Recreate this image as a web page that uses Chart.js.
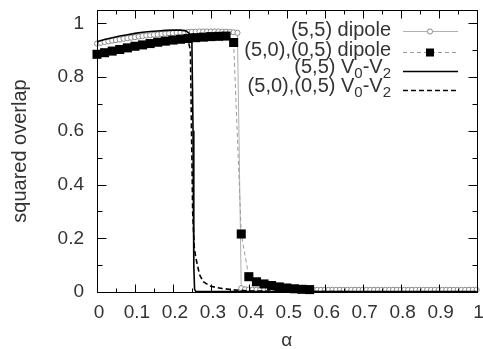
<!DOCTYPE html>
<html>
<head>
<meta charset="utf-8">
<script src="https://cdn.jsdelivr.net/npm/chart.js@4.4.1/dist/chart.umd.min.js"></script>
<style>
html,body{margin:0;padding:0;background:#fff;}
canvas{display:block;}
</style>
</head>
<body>
<canvas id="c" width="483" height="349"></canvas>
<script>
// ---- tick labels ----
const xTickValues = [0,0.1,0.2,0.3,0.4,0.5,0.6,0.7,0.8,0.9,1];
const xTickLabels = ['0','0.1','0.2','0.3','0.4','0.5','0.6','0.7','0.8','0.9','1'];
const xMinorTicks = [0.05,0.15,0.25,0.35,0.45,0.55,0.65,0.75,0.85,0.95];
const yTickValues = [0,0.2,0.4,0.6,0.8,1];
const yTickLabels = ['0','0.2','0.4','0.6','0.8','1'];
const yMinorTicks = [0.1,0.3,0.5,0.7,0.9];

const legendLabels = ['(5,5) dipole','(5,0),(0,5) dipole','(5,5) V_0-V_2','(5,0),(0,5) V_0-V_2'];

// ---- series: (5,5) dipole ----
const dip55X = [0,0.01,0.02,0.03,0.04,0.05,0.06,0.07,0.08,0.09,0.10,0.11,0.12,0.13,0.14,0.15,0.16,0.17,0.18,0.19,0.20,0.21,0.22,0.23,0.24,0.25,0.26,0.27,0.28,0.29,0.30,0.31,0.32,0.33,0.34,0.35,0.36,0.37,
  0.38,0.39,0.40,0.41,0.42,0.43,0.44,0.45,0.46,0.47,0.48,0.49,0.50,0.51,0.52,0.53,0.54,0.55,0.56,0.57,0.58,0.59,0.60,0.61,0.62,0.63,0.64,0.65,0.66,0.67,0.68,0.69,0.70,0.71,0.72,0.73,0.74,0.75,0.76,0.77,0.78,0.79,0.80,0.81,0.82,0.83,0.84,0.85,0.86,0.87,0.88,0.89,0.90,0.91,0.92,0.93,0.94,0.95,0.96,0.97,0.98,0.99,1.00];
const dip55Y = [0.925,0.928,0.931,0.933,0.936,0.938,0.940,0.943,0.945,0.947,0.949,0.951,0.953,0.955,0.956,0.958,0.959,0.961,0.962,0.963,0.964,0.965,0.966,0.967,0.968,0.969,0.969,0.970,0.970,0.970,0.970,0.970,0.970,0.969,0.969,0.968,0.967,0.965,
  0.014,0.010,0.009,0.008,0.008,0.008,0.008,0.008,0.008,0.008,0.008,0.008,0.008,0.008,0.008,0.008,0.008,0.008,0.008,0.008,0.008,0.008,0.008,0.008,0.008,0.008,0.008,0.008,0.008,0.008,0.008,0.008,0.008,0.008,0.008,0.008,0.008,0.008,0.008,0.008,0.008,0.008,0.008,0.008,0.008,0.008,0.008,0.008,0.008,0.008,0.008,0.008,0.008,0.008,0.008,0.008,0.008,0.008,0.008,0.008,0.008,0.008,0.008,0.008,0.008];

// ---- series: (5,0),(0,5) dipole ----
const dip50X = [0,0.02,0.04,0.06,0.08,0.10,0.12,0.14,0.16,0.18,0.20,0.22,0.24,0.26,0.28,0.30,0.32,0.34,0.36,0.38,0.40,0.42,0.44,0.46,0.48,0.50,0.52,0.54,0.56];
const dip50Y = [0.885,0.891,0.897,0.903,0.909,0.915,0.920,0.925,0.930,0.934,0.938,0.941,0.944,0.947,0.949,0.951,0.952,0.953,0.929,0.216,0.057,0.038,0.030,0.024,0.019,0.015,0.012,0.010,0.009];

// ---- series: (5,5) V0-V2 ----
const v55X = [0,0.02,0.04,0.06,0.08,0.10,0.12,0.14,0.16,0.18,0.20,0.22,0.235,0.245,0.250,0.253,0.255,0.257,0.26,0.30,0.40,0.60,0.80,1.00];
const v55Y = [0.932,0.940,0.947,0.953,0.958,0.963,0.967,0.970,0.972,0.974,0.975,0.975,0.972,0.960,0.930,0.600,0.100,0.010,0.003,0.002,0.002,0.002,0.002,0.002];

// ---- series: (5,0),(0,5) V0-V2 ----
const v50X = [0,0.04,0.08,0.12,0.16,0.20,0.23,0.240,0.246,0.249,0.252,0.256,0.26,0.27,0.28,0.30,0.33,0.36,0.40,0.50,0.70,1.00];
const v50Y = [0.885,0.897,0.909,0.920,0.930,0.938,0.942,0.938,0.900,0.600,0.300,0.170,0.130,0.065,0.038,0.021,0.013,0.008,0.004,0.002,0.001,0.001];

function pts(xs, ys){ return xs.map((x,i)=>({x:x, y:ys[i]})); }

const FONT = '"Liberation Sans", Arial, sans-serif';
const TXT = '#333';

const decor = {
  id: 'decor',
  afterDraw(chart){
    const ctx = chart.ctx, a = chart.chartArea;
    const xs = chart.scales.x, ys = chart.scales.y;
    ctx.save();
    ctx.strokeStyle = '#000';
    ctx.lineWidth = 1;
    ctx.strokeRect(Math.round(a.left)+0.5, Math.round(a.top)+0.5, Math.round(a.right-a.left), Math.round(a.bottom-a.top));
    const L = Math.round(a.left)+0.5, R = Math.round(a.right)+0.5, T = Math.round(a.top)+0.5, B = Math.round(a.bottom)+0.5;
    ctx.beginPath();
    function xt(v, len){
      const p = Math.round(xs.getPixelForValue(v))+0.5;
      ctx.moveTo(p, B); ctx.lineTo(p, B-len);
      ctx.moveTo(p, T); ctx.lineTo(p, T+len);
    }
    function yt(v, len){
      const p = Math.round(ys.getPixelForValue(v))+0.5;
      ctx.moveTo(L, p); ctx.lineTo(L+len, p);
      ctx.moveTo(R, p); ctx.lineTo(R-len, p);
    }
    xTickValues.forEach(v=>xt(v,8));
    xMinorTicks.forEach(v=>xt(v,4));
    yTickValues.forEach(v=>yt(v,9));
    yMinorTicks.forEach(v=>yt(v,5));
    ctx.stroke();

    // legend (gnuplot style key)
    const rows = [30, 50, 67, 86];
    const samp = [31, 52, 71, 90];
    const textRight = 391, s0 = 403, s1 = 458, sm = 430;
    const mainF = '20px ' + FONT, subF = '15px ' + FONT;
    ctx.textBaseline = 'middle';
    ctx.fillStyle = TXT;
    legendLabels.forEach((lab, i)=>{
      const parts = [];
      const re = /_(.)/g; let last = 0, m;
      while ((m = re.exec(lab)) !== null){
        if (m.index > last) parts.push({t: lab.slice(last, m.index), sub:false});
        parts.push({t: m[1], sub:true});
        last = m.index + m[0].length;
      }
      if (last < lab.length) parts.push({t: lab.slice(last), sub:false});
      let w = 0;
      parts.forEach(p=>{ ctx.font = p.sub ? subF : mainF; p.w = ctx.measureText(p.t).width; w += p.w; });
      let x = textRight - w;
      ctx.textAlign = 'left';
      parts.forEach(p=>{
        ctx.font = p.sub ? subF : mainF;
        ctx.fillText(p.t, x, rows[i] + (p.sub ? 7 : 0));
        x += p.w;
      });
      const ds = chart.data.datasets[i];
      ctx.save();
      ctx.strokeStyle = ds.borderColor;
      ctx.lineWidth = ds.borderWidth;
      ctx.setLineDash(ds.borderDash || []);
      ctx.beginPath();
      ctx.moveTo(s0, samp[i]+0.5); ctx.lineTo(s1, samp[i]+0.5);
      ctx.stroke();
      ctx.setLineDash([]);
      if (i === 0){
        ctx.fillStyle = '#fff'; ctx.strokeStyle = '#8a8a8a'; ctx.lineWidth = 1;
        ctx.beginPath(); ctx.arc(sm, samp[i]+0.5, 2.6, 0, Math.PI*2); ctx.fill(); ctx.stroke();
      } else if (i === 1){
        ctx.fillStyle = '#000';
        ctx.fillRect(sm-4, samp[i]+0.5-4, 8, 8);
      }
      ctx.restore();
    });
    ctx.restore();
  }
};

new Chart(document.getElementById('c'), {
  type: 'scatter',
  data: {
    datasets: [
      { label: legendLabels[0], data: pts(dip55X, dip55Y), showLine: true, borderColor: '#b0b0b0', borderWidth: 1,
        pointStyle: 'circle', pointRadius: 2.6, pointBorderColor: '#8a8a8a', pointBackgroundColor: '#fff', pointBorderWidth: 1, order: 4, clip: false },
      { label: legendLabels[1], data: pts(dip50X, dip50Y), showLine: true, borderColor: '#9a9a9a', borderWidth: 1, borderDash: [4,3],
        pointStyle: 'rect', pointRadius: 6.4, pointBorderColor: '#000', pointBackgroundColor: '#000', pointBorderWidth: 0, order: 3, clip: false },
      { label: legendLabels[2], data: pts(v55X, v55Y), showLine: true, borderColor: '#000', borderWidth: 1.6,
        pointRadius: 0, order: 2, clip: false },
      { label: legendLabels[3], data: pts(v50X, v50Y), showLine: true, borderColor: '#000', borderWidth: 1.6, borderDash: [5,3],
        pointRadius: 0, order: 1, clip: false }
    ]
  },
  options: {
    responsive: false,
    animation: false,
    devicePixelRatio: 1,
    layout: { padding: { left: 0, top: 10, right: 3, bottom: 0 } },
    plugins: { legend: { display: false }, tooltip: { enabled: false } },
    elements: { line: { tension: 0 } },
    scales: {
      x: {
        type: 'linear', min: 0, max: 1,
        afterBuildTicks(s){ s.ticks = xTickValues.map(v=>({value:v})); },
        afterFit(s){ s.height = 57; s.paddingLeft = 0; s.paddingRight = 0; },
        grid: { display: false, drawTicks: false },
        border: { display: false },
        ticks: { autoSkip: false, maxRotation: 0, padding: 9, labelOffset: 2, color: TXT, font: { family: FONT, size: 19 },
          callback(v){ const i = xTickValues.indexOf(v); return i >= 0 ? xTickLabels[i] : ''; } },
        title: { display: true, text: 'α', color: TXT, font: { family: FONT, size: 19, lineHeight: 1 }, padding: { top: 0, bottom: -1 } }
      },
      y: {
        type: 'linear', min: 0, max: 1.05,
        afterBuildTicks(s){ s.ticks = yTickValues.map(v=>({value:v})); },
        afterFit(s){ s.width = 97; s.paddingTop = 0; s.paddingBottom = 0; },
        grid: { display: false, drawTicks: false },
        border: { display: false },
        ticks: { autoSkip: false, padding: 13, color: TXT, font: { family: FONT, size: 19 },
          callback(v){ const i = yTickValues.indexOf(v); return i >= 0 ? yTickLabels[i] : ''; } },
        title: { display: true, text: 'squared overlap', color: TXT, font: { family: FONT, size: 20, lineHeight: 1.2 }, padding: { top: 8, bottom: 0 } }
      }
    }
  },
  plugins: [decor]
});
</script>
</body>
</html>
